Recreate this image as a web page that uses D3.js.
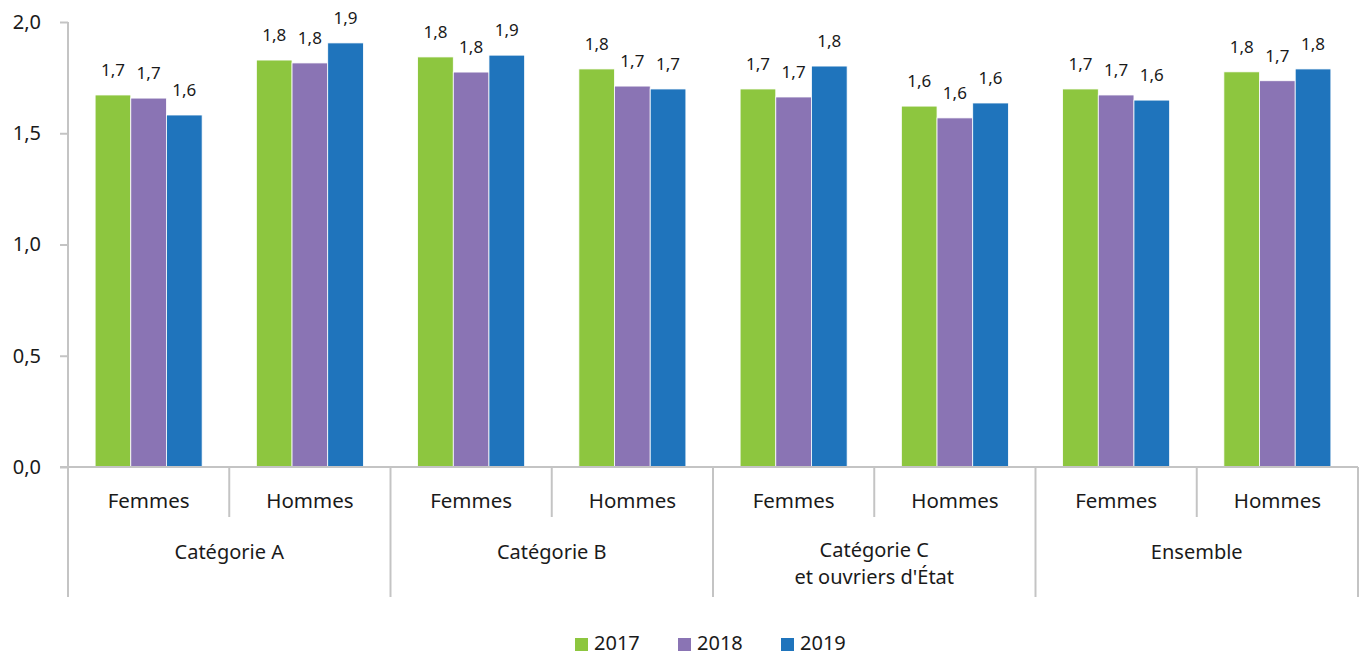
<!DOCTYPE html>
<html>
<head>
<meta charset="utf-8">
<script src="https://cdn.jsdelivr.net/npm/d3@7"></script>
<style>
  body { margin: 0; background: #fff; }
  text { font-family: "Noto Sans", Lato, sans-serif; fill: #1a1a1a; }
</style>
</head>
<body>
<svg id="chart" width="1365" height="656"></svg>
<script>
// data
const categories = ['Catégorie A', 'Catégorie B', 'Catégorie C\net ouvriers d\'État', 'Ensemble'];
const sexes = ['Femmes', 'Hommes'];
const years = ['2017', '2018', '2019'];
const colors = ['#8dc63f', '#8a74b4', '#1f74bc'];
// one row per category x sex, values per year
const values2017 = [1.672, 1.829, 1.843, 1.789, 1.699, 1.622, 1.699, 1.776];
const values2018 = [1.658, 1.816, 1.775, 1.712, 1.663, 1.569, 1.672, 1.736];
const values2019 = [1.582, 1.906, 1.851, 1.699, 1.802, 1.636, 1.649, 1.789];
const yTicks = [0, 0.5, 1, 1.5, 2];

const series = [values2017, values2018, values2019];
const groups = [];
categories.forEach((c, ci) => sexes.forEach((s, si) => groups.push({ key: ci + '-' + si, cat: c, sex: s, idx: ci * 2 + si })));

const svg = d3.select('#chart');
const mLeft = 68, mRight = 1358, mTop = 22, mBottom = 467;
const fmt = v => d3.format('.1f')(v).replace('.', ',');

const x0 = d3.scaleBand().domain(groups.map(d => d.key)).range([mLeft, mRight]).paddingInner(0).paddingOuter(0);
const x1 = d3.scaleBand().domain(years).range([0, x0.bandwidth()]).paddingInner(0).paddingOuter(0.76);
const y = d3.scaleLinear().domain([0, 2]).range([mBottom, mTop]);

// y axis
const yAxis = svg.append('g').attr('transform', `translate(${mLeft},0)`)
  .call(d3.axisLeft(y).tickValues(yTicks).tickSize(8).tickFormat(fmt));
yAxis.select('.domain').remove();
yAxis.selectAll('line').attr('stroke', '#c4c4c4').attr('stroke-width', 2);
yAxis.selectAll('text').attr('font-size', 20).attr('x', -27).attr('dy', '0.32em');

svg.append('line').attr('x1', mLeft).attr('x2', mLeft).attr('y1', mTop).attr('y2', 597)
  .attr('stroke', '#c4c4c4').attr('stroke-width', 2);

// bars
const g = svg.append('g');
groups.forEach(gr => {
  const gx = x0(gr.key);
  years.forEach((yr, yi) => {
    const v = series[yi][gr.idx];
    g.append('rect')
      .attr('x', gx + x1(yr))
      .attr('y', y(v))
      .attr('width', x1.bandwidth())
      .attr('height', y(0) - y(v))
      .attr('fill', colors[yi])
      .attr('stroke', '#fff')
      .attr('stroke-width', 0.8);
    g.append('text')
      .attr('x', gx + x1(yr) + x1.bandwidth() / 2)
      .attr('y', y(v) - 19)
      .attr('text-anchor', 'middle')
      .attr('font-size', 17)
      .text(fmt(v));
  });
});

// baseline
svg.append('line').attr('x1', mLeft - 8).attr('x2', mRight).attr('y1', mBottom).attr('y2', mBottom)
  .attr('stroke', '#c4c4c4').attr('stroke-width', 2);

// category axis
groups.forEach((gr, i) => {
  const gx = x0(gr.key);
  const xe = gx + x0.bandwidth();
  svg.append('text')
    .attr('x', gx + x0.bandwidth() / 2)
    .attr('y', 508)
    .attr('text-anchor', 'middle')
    .attr('font-size', 20.5)
    .text(gr.sex);
  const isCatEnd = i % 2 === 1;
  svg.append('line').attr('x1', xe).attr('x2', xe).attr('y1', mBottom).attr('y2', isCatEnd ? 597 : 517)
    .attr('stroke', '#c4c4c4').attr('stroke-width', 2);
});

categories.forEach((c, ci) => {
  const xs = x0(groups[ci * 2].key);
  const xc = xs + x0.bandwidth();
  const lines = c.split('\n');
  lines.forEach((l, li) => {
    svg.append('text')
      .attr('x', xc)
      .attr('y', (lines.length > 1 ? 557 : 559) + li * 27)
      .attr('text-anchor', 'middle')
      .attr('font-size', 20)
      .text(l);
  });
});

// legend
const legendX = [575, 678, 781];
years.forEach((yr, i) => {
  const lg = svg.append('g').attr('transform', `translate(${legendX[i]},0)`);
  lg.append('rect').attr('x', 0).attr('y', 638).attr('width', 13).attr('height', 13).attr('fill', colors[i]);
  lg.append('text').attr('x', 19).attr('y', 650).attr('font-size', 20).text(yr);
});
</script>
</body>
</html>
